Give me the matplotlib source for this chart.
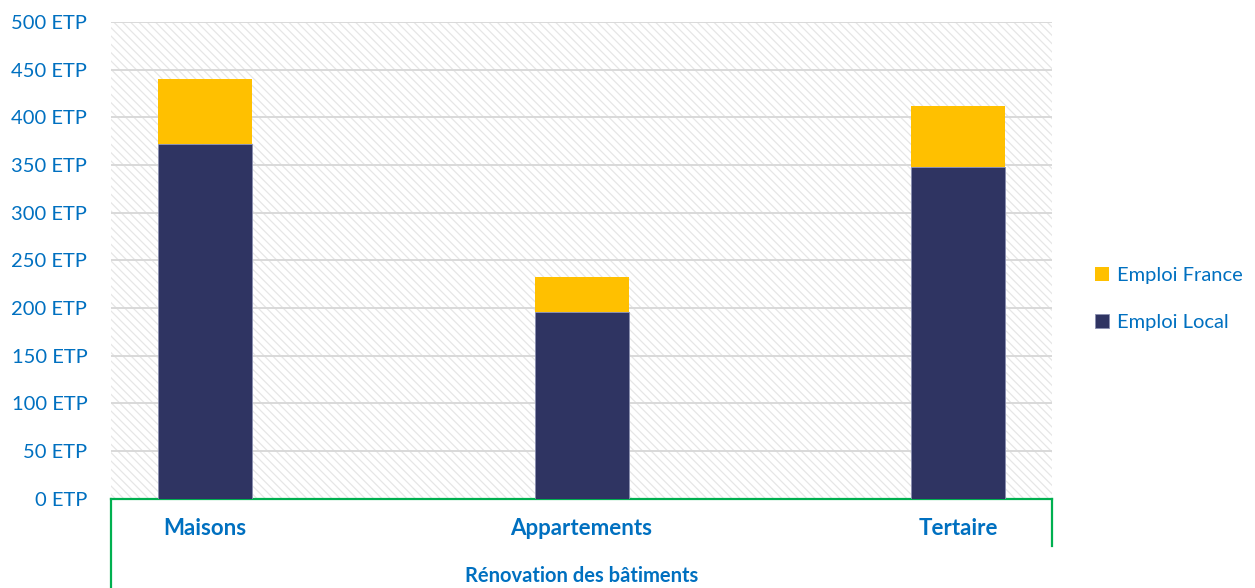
import matplotlib.pyplot as plt
from matplotlib.patches import Rectangle
from matplotlib.ticker import FixedLocator

plt.rcParams["font.family"] = ["Lato", "DejaVu Sans"]
plt.rcParams["hatch.linewidth"] = 0.9
plt.rcParams["hatch.color"] = "#E6E6E6"

categories = ["Maisons", "Appartements", "Tertaire"]
group_label = "Rénovation des bâtiments"
emploi_local = [372, 196, 348]
emploi_france = [68, 36, 64]
y_ticks = [0, 50, 100, 150, 200, 250, 300, 350, 400, 450, 500]
y_labels = [f"{v} ETP" for v in y_ticks]

blue = "#0070C0"
navy = "#2F3462"
gold = "#FFC000"
green = "#00B050"

fig = plt.figure(figsize=(12.55, 5.88), dpi=100)
ax = fig.add_axes([0.0884, 0.152, 0.75, 0.8105])

# hatched plot background
ax.add_patch(Rectangle((0, 0), 1, 1, transform=ax.transAxes, facecolor="white",
                       edgecolor="#E6E6E6", hatch="\\\\\\\\", lw=0, zorder=0))

x = range(len(categories))
ax.bar(x, emploi_local, width=0.25, color=navy, edgecolor="#8A8FB0", lw=0.6,
       label="Emploi Local", zorder=3)
ax.bar(x, emploi_france, bottom=emploi_local, width=0.25, color=gold, lw=0,
       label="Emploi France", zorder=3)

ax.set_xlim(-0.25, 2.25)
ax.set_ylim(0, 500)
ax.yaxis.set_major_locator(FixedLocator(y_ticks))
ax.set_yticklabels(y_labels)
ax.grid(axis="y", color="#D9D9D9", lw=1.4, zorder=1)
ax.set_axisbelow(True)

ax.set_xticks(list(x))
ax.set_xticklabels(categories, fontweight="bold", color=blue, fontsize=16)
ax.tick_params(axis="x", length=0, pad=14)
ax.tick_params(axis="y", length=0, pad=17, labelcolor=blue, labelsize=14.5)

for side in ["top", "right", "left"]:
    ax.spines[side].set_visible(False)
ax.spines["bottom"].set_color(green)
ax.spines["bottom"].set_linewidth(1.6)

# multi-level category frame below the axis
ax.plot([0, 0], [0, -0.19], transform=ax.transAxes, color=green, lw=1.6, clip_on=False)
ax.plot([1, 1], [0, -0.099], transform=ax.transAxes, color=green, lw=1.6, clip_on=False)
ax.text(0.5, -0.162, group_label, transform=ax.transAxes, ha="center", va="center",
        fontweight="bold", color=blue, fontsize=14.5)

handles, labels = ax.get_legend_handles_labels()
leg = fig.legend(handles[::-1], labels[::-1], loc="center left",
                 bbox_to_anchor=(0.858, 0.492), frameon=False, fontsize=14.5,
                 handlelength=0.7, handleheight=0.7, handletextpad=0.4,
                 labelspacing=1.5, labelcolor=blue)

fig.savefig("out.png", dpi=100)
